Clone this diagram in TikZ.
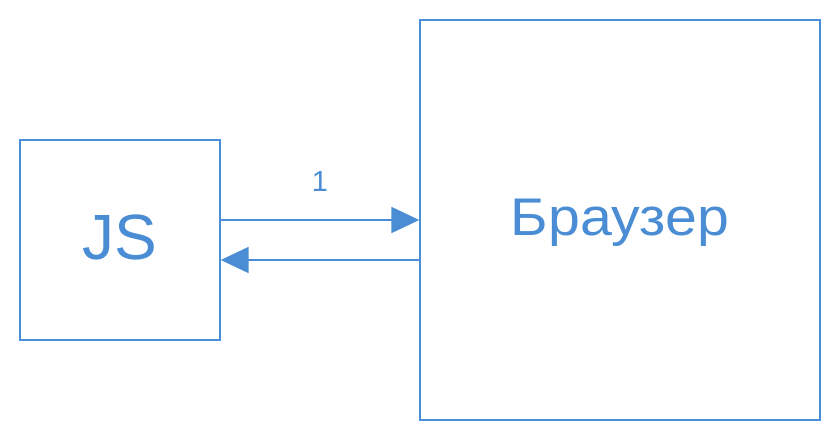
\documentclass[tikz,border=0pt]{standalone}
\usepackage{fontspec}
\setmainfont{Liberation Sans}
\usetikzlibrary{arrows.meta,positioning}
\definecolor{skyblue}{RGB}{74,141,212}

\begin{document}
\begin{tikzpicture}[x=1pt,y=1pt]
	% Fix the page size.
	\useasboundingbox (0,0) rectangle (840,440);

	\tikzstyle{box}=[draw=skyblue, line width=1.4pt, text=skyblue, inner sep=0pt]
	\tikzstyle{flow}=[draw=skyblue, line width=2pt, -{Triangle[length=28pt,width=26pt]}]

	\node (js) at (120,200) [box, minimum width=200pt, minimum height=200pt, text height=46pt, text depth=8pt] {\fontsize{64}{72}\selectfont JS};
	\node (browser) at (620,220) [box, minimum width=400pt, minimum height=400pt, text height=38pt, text depth=8pt] {\addfontfeature{FakeStretch=1.08}\fontsize{53}{60}\selectfont Браузер};

	\draw [flow] ([yshift=20pt]js.east) -- (browser.west)
		node [midway, yshift=38pt, text=skyblue] {\fontsize{29}{34}\selectfont 1};
	\coordinate (back) at ([yshift=-20pt]js.east);
	\draw [flow] (back -| browser.west) -- (back);
\end{tikzpicture}
\end{document}
